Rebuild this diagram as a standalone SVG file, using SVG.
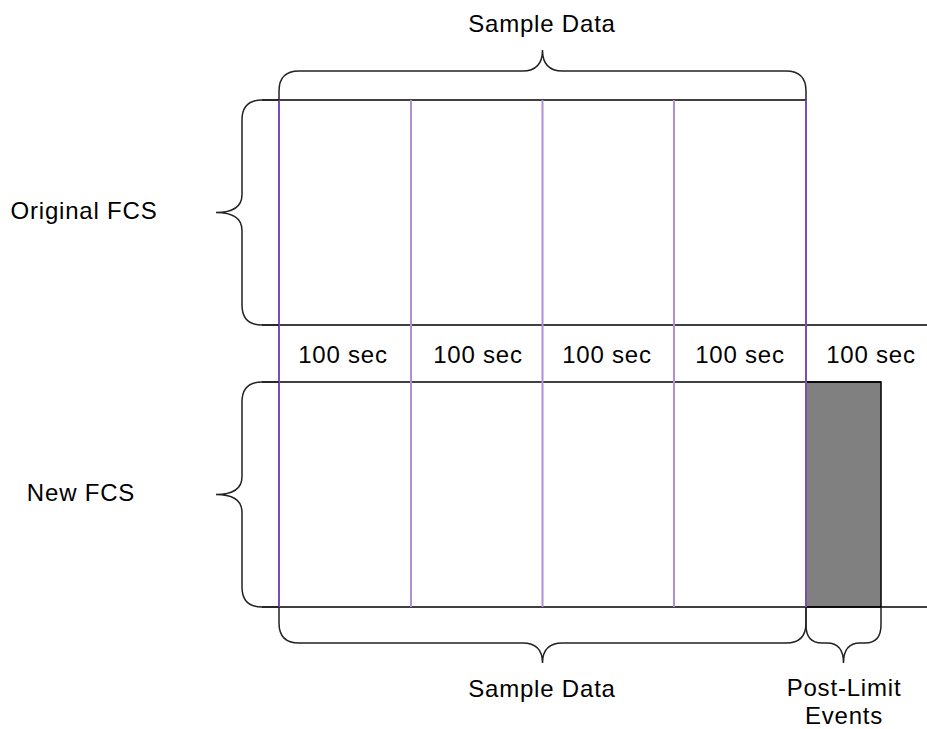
<svg xmlns="http://www.w3.org/2000/svg" width="927" height="729" viewBox="0 0 927 729">
  <style>
    .lbl { font-family: "Liberation Sans", Arial, sans-serif; font-size: 24px; letter-spacing: 0.8px; fill: #000; text-anchor: middle; }
    .line { stroke: #000; stroke-width: 1.5; fill: none; }
    .brace { stroke: #222; stroke-width: 1.5; fill: none; }
    .div-edge { stroke: #7a4cb8; stroke-width: 2; }
    .div-mid { stroke: #b28ddb; stroke-width: 2; }
  </style>
  <rect width="927" height="729" fill="#fff"/>

  <!-- post-limit block -->
  <g id="post-limit-block">
    <rect x="806" y="382" width="75" height="225" fill="#808080" stroke="#000" stroke-width="1.5"/>
  </g>

  <!-- timeline rows -->
  <g id="timeline-lines">
    <line class="line" x1="262" y1="100" x2="806" y2="100"/>
    <line class="line" x1="262" y1="325" x2="927" y2="325"/>
    <line class="line" x1="262" y1="382" x2="881" y2="382"/>
    <line class="line" x1="262" y1="607" x2="927" y2="607"/>
  </g>

  <!-- 100 s interval dividers -->
  <g id="dividers">
    <line class="div-edge" x1="279" y1="100" x2="279" y2="607"/>
    <line class="div-mid" x1="411" y1="100" x2="411" y2="607"/>
    <line class="div-mid" x1="542.5" y1="100" x2="542.5" y2="607"/>
    <line class="div-mid" x1="674" y1="100" x2="674" y2="607"/>
    <line class="div-edge" x1="806" y1="100" x2="806" y2="607"/>
  </g>

  <!-- braces -->
  <g id="brace-sample-top">
    <path class="brace" d="M279,100 L279,91 Q279,71 299,71 L522.5,71 Q542.5,71 542.5,50 Q542.5,71 562.5,71 L786,71 Q806,71 806,91 L806,100"/>
  </g>
  <g id="brace-original">
    <path class="brace" d="M279,100 L262,100 Q242,100 242,120 L242,194.5 Q242,212.5 216,212.5 Q242,212.5 242,230.5 L242,305 Q242,325 262,325 L279,325"/>
  </g>
  <g id="brace-new">
    <path class="brace" d="M279,382 L262,382 Q242,382 242,402 L242,476.5 Q242,494.5 216,494.5 Q242,494.5 242,512.5 L242,587 Q242,607 262,607 L279,607"/>
  </g>
  <g id="brace-sample-bottom">
    <path class="brace" d="M279,607 L279,623 Q279,643 299,643 L522.5,643 Q542.5,643 542.5,663 Q542.5,643 562.5,643 L786,643 Q806,643 806,623 L806,607"/>
  </g>
  <g id="brace-post-limit">
    <path class="brace" d="M806,607 L806,625 Q806,643 822,643 L827,643 Q843.5,643 843.5,663 Q843.5,643 860,643 L865,643 Q881,643 881,625 L881,607"/>
  </g>

  <!-- labels -->
  <g id="labels">
    <text class="lbl" x="542" y="32">Sample Data</text>
    <text class="lbl" x="84" y="219">Original FCS</text>
    <text class="lbl" x="81" y="501">New FCS</text>
    <text class="lbl" x="343" y="363">100 sec</text>
    <text class="lbl" x="478" y="363">100 sec</text>
    <text class="lbl" x="607" y="363">100 sec</text>
    <text class="lbl" x="740" y="363">100 sec</text>
    <text class="lbl" x="871" y="363">100 sec</text>
    <text class="lbl" x="542" y="697">Sample Data</text>
    <text class="lbl" x="844" y="696">Post-Limit</text>
    <text class="lbl" x="844" y="724">Events</text>
  </g>
</svg>
